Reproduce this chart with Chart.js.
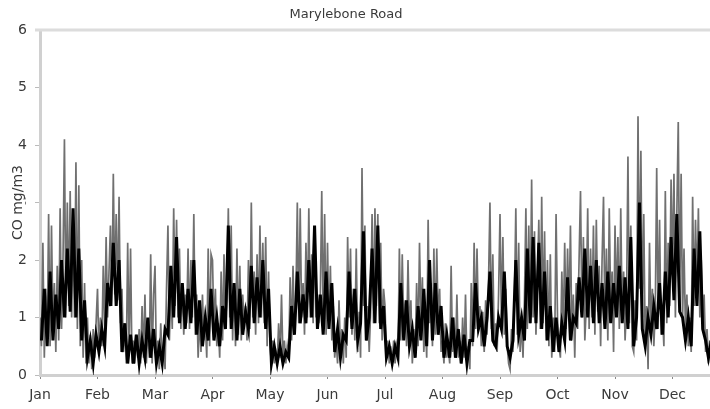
<!DOCTYPE html>
<html>
<head>
<meta charset="utf-8">
<script src="https://cdn.jsdelivr.net/npm/chart.js@4/dist/chart.umd.min.js"></script>
<style>
  html, body { margin: 0; padding: 0; background: #fff; }
  #wrap { width: 710px; height: 409px; }
</style>
</head>
<body>
<div id="wrap"><canvas id="coChart" width="710" height="409"></canvas></div>
<script>
// Marylebone Road - CO (mg/m3), readings
const chartTitle = 'Marylebone Road';
const yTitle = 'CO mg/m3';
const months = ['Jan', 'Feb', 'Mar', 'Apr', 'May', 'Jun', 'Jul', 'Aug', 'Sep', 'Oct', 'Nov', 'Dec'];
const yTicks = [0, 1, 2, 3, 4, 5, 6];

// spiky readings, 40 per month (Dec is cut off at the right edge)
const jan = [1.0,0.5,2.3,0.3,1.5,0.6,2.8,0.5,2.6,0.8,1.6,0.4,1.9,0.6,2.9,0.8,2.0,4.1,1.0,3.0,1.2,3.2,1.0,2.6,1.0,3.7,0.8,3.3,0.5,2.0,0.3,1.6,0.2,1.0,0.2,0.7,0.1,0.8,0.3,0.9];
const feb = [1.5,0.4,1.0,0.5,1.9,0.8,2.4,1.0,1.8,2.6,1.2,3.5,1.4,2.8,1.3,3.1,0.9,1.5,0.4,0.8,0.2,2.3,0.4,2.2,0.2,0.6,0.2,0.7,0.3,0.8,0.2,1.2,0.3,1.4,0.2,0.9,0.3,2.1,0.2,1.4];
const mar = [1.9,0.2,0.6,0.1,0.9,0.2,0.5,0.1,1.5,2.6,0.6,1.5,0.8,2.9,1.2,2.7,1.0,2.2,0.8,1.6,0.7,1.4,0.9,2.2,0.8,2.0,1.0,2.8,0.7,1.4,0.3,1.0,0.4,1.4,0.6,0.9,0.3,2.2,0.5,2.1];
const apr = [2.0,0.8,1.5,0.5,0.9,0.3,1.8,0.6,2.1,0.9,1.3,2.9,1.0,2.6,0.6,1.6,0.5,2.2,0.7,1.9,0.6,1.4,0.9,1.2,0.6,2.0,0.8,3.0,1.0,1.8,0.7,2.1,0.9,2.6,1.0,2.3,0.9,2.4,0.5,1.8];
const may = [0.5,0.2,0.6,0.2,0.4,0.2,0.9,0.3,1.4,0.3,0.6,0.2,0.5,0.3,1.7,0.6,1.9,0.8,1.3,3.0,0.9,2.9,1.0,1.6,0.7,2.3,1.0,2.9,1.0,2.1,0.9,2.5,1.0,1.4,0.9,1.4,3.2,0.8,2.8,0.7];
const jun = [2.3,0.8,1.9,0.6,1.2,0.3,0.6,0.2,1.3,0.4,0.8,0.2,1.0,0.3,2.4,1.0,2.2,0.7,1.5,0.6,2.2,0.4,1.1,0.3,3.6,1.2,2.6,0.6,1.2,0.4,1.1,2.8,0.9,2.9,1.2,2.8,0.9,2.3,0.6,1.5];
const jul = [1.2,0.3,0.6,0.2,0.5,0.2,0.6,0.2,0.5,0.3,2.2,0.6,2.1,0.8,1.3,0.5,2.0,0.7,1.3,0.2,0.8,0.4,1.6,0.5,2.3,0.9,1.7,0.4,1.0,0.3,2.7,0.9,1.6,0.5,2.2,0.7,2.2,0.9,1.5,0.4];
const aug = [0.6,0.2,0.9,0.3,0.5,0.2,1.9,0.4,1.0,0.3,1.4,0.3,0.6,0.2,1.0,0.3,1.4,0.2,0.5,0.1,1.6,0.5,2.3,0.8,2.2,0.9,1.2,0.5,1.1,0.4,1.3,0.7,1.6,3.0,0.8,2.1,0.5,0.9,0.4,1.4];
const sep = [2.8,0.9,2.4,0.7,1.5,0.5,0.2,0.1,0.8,0.4,1.2,2.9,0.7,2.3,0.4,0.9,0.3,1.3,2.9,0.8,2.6,0.9,3.4,1.0,2.5,0.7,1.6,2.7,0.8,3.1,0.9,2.5,0.6,2.0,0.5,2.1,0.3,1.0,0.4,2.8];
const oct = [1.0,0.5,0.3,1.8,0.7,2.3,0.8,2.2,1.0,2.6,0.6,1.4,0.3,1.6,0.8,2.0,3.2,1.0,2.4,0.6,1.2,2.9,0.8,2.2,1.0,2.6,0.7,2.7,1.1,1.9,0.5,2.0,3.1,0.9,2.2,0.6,2.9,1.2,1.8,0.4];
const nov = [2.6,1.2,2.4,0.8,2.9,1.0,1.8,0.6,1.2,3.8,0.9,2.6,0.5,0.4,1.3,0.6,4.5,1.5,3.9,1.0,2.8,0.5,1.2,0.1,2.3,0.8,1.5,0.5,1.1,3.6,0.8,2.7,0.7,1.1,0.5,3.2,0.9,2.3,1.2,3.4];
const dec = [1.8,3.5,1.0,2.8,4.4,1.2,3.5,1.0,2.2,0.8,1.4,0.5,1.0,0.4,3.1,1.2,2.7,1.5,2.9,1.0,2.0,0.9,1.4,0.4,0.8,0.2,0.6,0.3];

// dense dark body of the trace (typical low / typical high), 20 per month
const janBody = [0.6,1.5,0.5,1.8,0.6,1.4,0.8,2.0,1.0,2.2,1.1,2.9,1.0,2.2,0.6,1.3,0.3,0.6,0.2,0.7];
const febBody = [0.4,0.8,0.5,1.6,1.2,2.3,1.2,2.0,0.4,0.9,0.2,0.7,0.2,0.7,0.2,0.6,0.3,1.0,0.3,0.8];
const marBody = [0.2,0.5,0.2,0.8,0.7,1.9,1.0,2.4,0.9,1.6,0.8,1.5,0.9,2.0,0.7,1.3,0.5,1.0,0.6,1.5];
const aprBody = [0.6,1.0,0.5,1.2,0.8,2.6,0.8,1.6,0.6,1.5,0.7,1.1,0.8,1.9,0.9,1.7,1.0,2.0,0.8,1.5];
const mayBody = [0.2,0.5,0.2,0.5,0.2,0.4,0.3,1.2,0.7,1.8,0.9,1.4,0.9,2.0,1.0,2.6,0.8,1.4,0.7,1.8];
const junBody = [0.8,1.6,0.4,0.8,0.3,0.7,0.6,1.8,0.8,1.5,0.6,0.9,2.5,0.6,1.0,2.2,0.9,2.6,0.8,1.2];
const julBody = [0.3,0.5,0.2,0.5,0.3,1.6,0.6,1.3,0.5,0.8,0.3,1.2,0.6,1.5,0.5,2.0,0.6,1.6,0.7,1.2];
const augBody = [0.3,0.7,0.3,1.0,0.3,0.8,0.2,0.7,0.2,0.6,0.6,1.6,0.8,1.0,0.5,1.0,1.8,0.6,0.5,1.0];
const sepBody = [0.8,1.8,0.5,0.3,0.6,2.0,0.7,1.0,0.6,2.2,0.9,2.4,0.9,2.3,0.8,1.8,0.6,1.2,0.4,1.0];
const octBody = [0.4,0.9,0.6,1.7,0.6,1.0,0.9,1.7,1.0,2.2,1.0,1.9,0.9,2.0,0.9,1.6,0.8,1.8,0.9,1.6];
const novBody = [1.0,1.9,0.9,1.7,0.8,2.4,0.5,1.0,3.0,0.8,0.5,1.0,0.7,1.2,0.8,1.6,0.7,1.8,1.0,2.4];
const decBody = [1.3,2.8,1.1,1.0,0.6,1.0,0.5,2.2,1.2,2.5,0.8,0.6,0.3,0.6];

const X_MAX = 11.652; // the picture is cut off a little before the end of Dec

function toPoints(monthArrays, perMonth, shift) {
    const pts = [];
    monthArrays.forEach((vals, m) => {
        vals.forEach((v, j) => pts.push({ x: m + (j + shift) / perMonth, y: v }));
    });
    return pts;
}

const spikePoints = toPoints([jan, feb, mar, apr, may, jun, jul, aug, sep, oct, nov, dec], 40, 0);
const bodyPoints = toPoints([janBody, febBody, marBody, aprBody, mayBody, junBody, julBody, augBody, sepBody, octBody, novBody, decBody], 20, 0.5);

const textColor = '#3a3a3a';
const axisColor = '#d0d0d0';

// frame line on top, chart title and y-axis title
const textPlugin = {
    id: 'textPlugin',
    beforeDatasetsDraw(chart) {
        const { ctx, chartArea } = chart;
        ctx.save();
        ctx.strokeStyle = '#dcdcdc';
        ctx.lineWidth = 3;
        ctx.beginPath();
        ctx.moveTo(chartArea.left - 5, chartArea.top);
        ctx.lineTo(chartArea.right, chartArea.top);
        ctx.stroke();
        ctx.restore();
    },
    afterDraw(chart) {
        const { ctx, chartArea } = chart;
        ctx.save();
        ctx.fillStyle = textColor;
        ctx.textAlign = 'center';
        ctx.textBaseline = 'middle';
        ctx.font = '13px "DejaVu Sans"';
        ctx.fillText(chartTitle, 346, 15);

        ctx.translate(18, (chartArea.top + chartArea.bottom) / 2);
        ctx.rotate(-Math.PI / 2);
        ctx.font = '14px "DejaVu Sans"';
        const w = ctx.measureText(yTitle).width;
        ctx.fillStyle = '#fff';
        ctx.fillRect(-w / 2 - 1, -7, w + 2, 14);
        ctx.fillStyle = textColor;
        ctx.fillText(yTitle, 0, 0);
        ctx.restore();
    }
};

new Chart(document.getElementById('coChart'), {
    type: 'line',
    data: {
        datasets: [{
            data: bodyPoints,
            borderColor: '#000',
            borderWidth: 3,
            pointRadius: 0,
            tension: 0,
            fill: false
        }, {
            data: spikePoints,
            borderColor: '#707070',
            borderWidth: 1.7,
            pointRadius: 0,
            tension: 0,
            fill: false
        }]
    },
    options: {
        responsive: false,
        animation: false,
        parsing: false,
        layout: { padding: { top: 30, left: 0, right: 0, bottom: 0 } },
        plugins: {
            legend: { display: false },
            tooltip: { enabled: false }
        },
        scales: {
            x: {
                type: 'linear',
                min: 0,
                max: X_MAX,
                afterFit: (s) => { s.height = 34; },
                afterBuildTicks: (s) => { s.ticks = months.map((_, i) => ({ value: i })); },
                ticks: {
                    autoSkip: false,
                    maxRotation: 0,
                    padding: 8,
                    color: textColor,
                    font: { family: 'DejaVu Sans', size: 14 },
                    callback: (v) => months[v]
                },
                grid: {
                    drawOnChartArea: false,
                    tickLength: 4,
                    tickColor: '#888'
                },
                border: { color: axisColor, width: 3 }
            },
            y: {
                min: 0,
                max: 6,
                afterFit: (s) => { s.width = 40; },
                afterBuildTicks: (s) => { s.ticks = yTicks.map(v => ({ value: v })); },
                ticks: {
                    padding: 8,
                    color: textColor,
                    font: { family: 'DejaVu Sans', size: 14 }
                },
                grid: {
                    drawOnChartArea: false,
                    tickLength: 5,
                    tickColor: '#bbb'
                },
                border: { color: axisColor, width: 3 }
            }
        }
    },
    plugins: [textPlugin]
});
</script>
</body>
</html>
